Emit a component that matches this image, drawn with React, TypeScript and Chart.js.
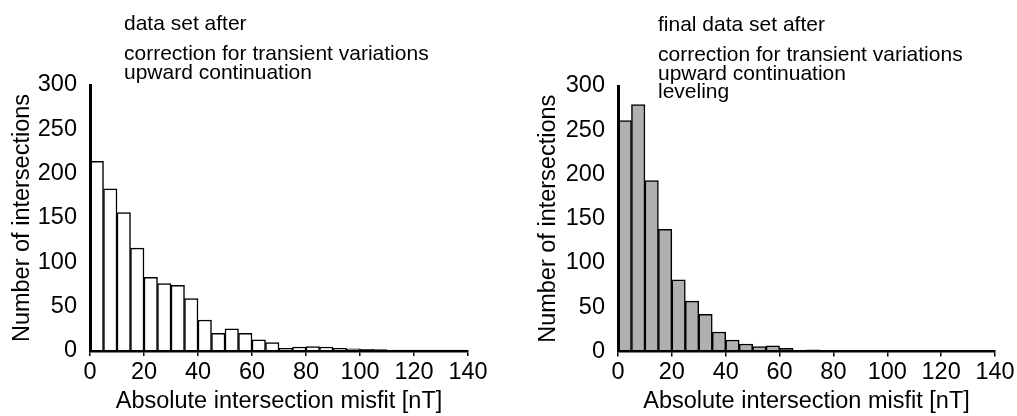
import React, { useEffect, useRef } from "react";
import { Chart, registerables } from "chart.js";

Chart.register(...registerables);

// Bin centres (5 nT bins from 0 to 140 nT)
const binCenters = [
  2.5, 7.5, 12.5, 17.5, 22.5, 27.5, 32.5, 37.5, 42.5, 47.5, 52.5, 57.5, 62.5, 67.5,
  72.5, 77.5, 82.5, 87.5, 92.5, 97.5, 102.5, 107.5, 112.5, 117.5, 122.5, 127.5, 132.5, 137.5,
];

// Left panel: after transient correction + upward continuation
const countsBefore = [
  214, 183, 156, 116, 83, 76, 74, 59, 35, 20, 25, 20, 12.5, 9.4,
  3, 4.5, 5, 4.5, 3, 2.5, 2, 1.5, 1, 1, 1, 1, 1, 1,
];

// Right panel: final data set after leveling
const countsFinal = [
  261, 279, 193, 138, 81, 57, 42, 22, 13, 8.5, 5.5, 6.5, 3.5, 1,
  2, 1, 1, 1, 1, 1, 1, 1, 1, 1, 1, 1, 1, 1,
];

const xMin = 0;
const xMax = 140;
const xStep = 20;
const yMin = 0;
const yMax = 300;
const yStep = 50;

const noteLeft = ["data set after", "correction for transient variations", "upward continuation"];
const noteRight = [
  "final data set after",
  "correction for transient variations",
  "upward continuation",
  "leveling",
];

const xTitle = "Absolute intersection misfit [nT]";
const yTitle = "Number of intersections";

const FONT = "'Liberation Sans', Arial, Helvetica, sans-serif";

type PanelProps = {
  counts: number[];
  fill: string;
  note: string[];
  noteDx: number;
  noteBaselines: number[];
  width: number;
  padLeft: number;
  padRight: number;
  padTop: number;
  yWidth: number;
  xHeight: number;
};

function Panel(p: PanelProps) {
  const ref = useRef<HTMLCanvasElement | null>(null);
  useEffect(() => {
    if (!ref.current) return;
    const notePlugin = {
      id: "note",
      afterDraw(chart: any) {
        const ctx = chart.ctx;
        ctx.save();
        ctx.fillStyle = "#000";
        ctx.font = `21px ${FONT}`;
        ctx.textBaseline = "alphabetic";
        ctx.textAlign = "left";
        p.note.forEach((line, i) => {
          ctx.fillText(line, chart.chartArea.left + p.noteDx, p.noteBaselines[i]);
        });
        ctx.restore();
      },
    };
    const chart = new Chart(ref.current, {
      type: "bar",
      data: {
        datasets: [
          {
            data: binCenters.map((x, i) => ({ x, y: p.counts[i] })),
            backgroundColor: p.fill,
            borderColor: "#000",
            borderWidth: 1.5,
            barPercentage: 1,
            categoryPercentage: 1,
          },
        ],
      },
      options: {
        responsive: false,
        animation: false,
        layout: { padding: { left: p.padLeft, right: p.padRight, top: p.padTop, bottom: 0 } },
        plugins: { legend: { display: false }, tooltip: { enabled: false }, title: { display: false } },
        scales: {
          x: {
            type: "linear",
            min: xMin,
            max: xMax,
            offset: false,
            afterFit: (s: any) => {
              s.height = p.xHeight;
            },
            grid: {
              display: true,
              offset: false,
              drawOnChartArea: false,
              drawTicks: true,
              tickLength: 5,
              color: "#000",
              lineWidth: 1.5,
            },
            border: { display: true, color: "#000", width: 2.5, z: 1 },
            ticks: {
              stepSize: xStep,
              color: "#000",
              font: { family: FONT, size: 23.5 },
              padding: 2,
              maxRotation: 0,
              autoSkip: false,
            },
            title: {
              display: true,
              text: xTitle,
              color: "#000",
              font: { family: FONT, size: 23.5 },
              padding: { top: 0, bottom: 0 },
            },
          },
          y: {
            min: yMin,
            max: yMax,
            afterFit: (s: any) => {
              s.width = p.yWidth;
            },
            grid: { display: false, drawTicks: false },
            border: { display: true, color: "#000", width: 3, z: 2 },
            ticks: {
              stepSize: yStep,
              color: "#000",
              font: { family: FONT, size: 23.5 },
              padding: 13,
            },
            title: {
              display: true,
              text: yTitle,
              color: "#000",
              font: { family: FONT, size: 23.5 },
              padding: { top: 8, bottom: 0 },
            },
          },
        },
      } as any,
      plugins: [notePlugin],
    });
    return () => chart.destroy();
  }, []);
  return <canvas ref={ref} width={p.width} height={416} style={{ display: "block" }} />;
}

export default function App() {
  return (
    <div
      style={{
        position: "fixed",
        left: 0,
        top: 0,
        width: 1017,
        height: 416,
        background: "#fff",
        overflow: "hidden",
      }}
    >
      <div style={{ position: "absolute", left: 0, top: 0 }}>
        <Panel
          counts={countsBefore}
          fill="#ffffff"
          note={noteLeft}
          noteDx={34}
          noteBaselines={[30, 60, 79]}
          width={500}
          padLeft={0}
          padRight={32}
          padTop={85}
          yWidth={90}
          xHeight={65}
        />
      </div>
      <div style={{ position: "absolute", left: 500, top: 0 }}>
        <Panel
          counts={countsFinal}
          fill="#b0b0b0"
          note={noteRight}
          noteDx={40}
          noteBaselines={[31, 61, 80, 98]}
          width={517}
          padLeft={26}
          padRight={22}
          padTop={86}
          yWidth={92}
          xHeight={64.5}
        />
      </div>
    </div>
  );
}
